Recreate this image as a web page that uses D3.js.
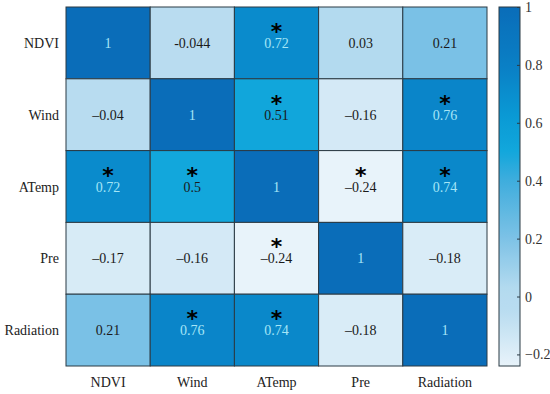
<!DOCTYPE html>
<html>
<head>
<meta charset="utf-8">
<script src="https://cdn.jsdelivr.net/npm/d3@7"></script>
<style>
  body { margin: 0; background: #fff; }
  svg text { font-family: "Liberation Serif", "Times New Roman", serif; }
  svg text.star { font-family: "DejaVu Sans", sans-serif; }
</style>
</head>
<body>
<svg id="chart" width="550" height="394"></svg>
<script>
const variables = ["NDVI", "Wind", "ATemp", "Pre", "Radiation"];

// correlation values, row by row
const values = [
  [1, -0.044, 0.72, 0.03, 0.21],
  [-0.04, 1, 0.51, -0.16, 0.76],
  [0.72, 0.5, 1, -0.24, 0.74],
  [-0.17, -0.16, -0.24, 1, -0.18],
  [0.21, 0.76, 0.74, -0.18, 1]
];

// text as printed in each cell
const valueLabels = [
  ["1", "-0.044", "0.72", "0.03", "0.21"],
  ["\u20130.04", "1", "0.51", "\u20130.16", "0.76"],
  ["0.72", "0.5", "1", "\u20130.24", "0.74"],
  ["\u20130.17", "\u20130.16", "\u20130.24", "1", "\u20130.18"],
  ["0.21", "0.76", "0.74", "\u20130.18", "1"]
];

// significance marks
const significant = [
  [false, false, true, false, false],
  [false, false, true, false, true],
  [true, true, false, true, true],
  [false, false, true, false, false],
  [false, true, true, false, false]
];

const colorbarTicks = [-0.2, 0, 0.2, 0.4, 0.6, 0.8, 1];
const colorDomain = [-0.24, 1];

const svg = d3.select("#chart");
const margin = { top: 7, left: 66 };
const gridW = 421, gridH = 359;

const x = d3.scaleBand().domain(variables).range([margin.left, margin.left + gridW]);
const y = d3.scaleBand().domain(variables).range([margin.top, margin.top + gridH]);

const color = d3.scaleLinear()
  .domain([-0.24, -0.05, 0.03, 0.2, 0.4, 0.5, 0.62, 0.8, 1])
  .range(["#e8f3fa", "#b9dcf0", "#b3daef", "#7dc2e6", "#3faddd", "#12a7dc", "#0a9ad5", "#0a7fc5", "#0a6db9"]);

const cells = [];
values.forEach((row, i) => row.forEach((v, j) => {
  cells.push({ r: variables[i], c: variables[j], v, label: valueLabels[i][j], star: significant[i][j] });
}));

const g = svg.append("g");

g.selectAll("rect.cell")
  .data(cells)
  .enter()
  .append("rect")
  .attr("class", "cell")
  .attr("x", d => x(d.c))
  .attr("y", d => y(d.r))
  .attr("width", x.bandwidth())
  .attr("height", y.bandwidth())
  .attr("fill", d => color(d.v))
  .attr("stroke", "#2b3a44")
  .attr("stroke-width", 1);

g.selectAll("text.val")
  .data(cells)
  .enter()
  .append("text")
  .attr("class", "val")
  .attr("x", d => x(d.c) + x.bandwidth() / 2)
  .attr("y", d => y(d.r) + y.bandwidth() / 2 + 5)
  .attr("text-anchor", "middle")
  .attr("font-size", 14)
  .attr("fill", d => d.v > 0.6 ? "#a6e6f7" : "#1a1a1a")
  .text(d => d.label);

g.selectAll("text.star")
  .data(cells.filter(d => d.star))
  .enter()
  .append("text")
  .attr("class", "star")
  .attr("x", d => x(d.c) + x.bandwidth() / 2)
  .attr("y", d => y(d.r) + y.bandwidth() / 2 - 4)
  .attr("text-anchor", "middle")
  .attr("font-size", 22)
  .attr("font-weight", "bold")
  .attr("fill", "#000")
  .text("*");

// row labels
svg.selectAll("text.rowlab")
  .data(variables)
  .enter()
  .append("text")
  .attr("class", "rowlab")
  .attr("x", margin.left - 7)
  .attr("y", d => y(d) + y.bandwidth() / 2 + 5)
  .attr("text-anchor", "end")
  .attr("font-size", 14)
  .attr("fill", "#222")
  .text(d => d);

// column labels
svg.selectAll("text.collab")
  .data(variables)
  .enter()
  .append("text")
  .attr("class", "collab")
  .attr("x", d => x(d) + x.bandwidth() / 2)
  .attr("y", margin.top + gridH + 21)
  .attr("text-anchor", "middle")
  .attr("font-size", 14)
  .attr("fill", "#222")
  .text(d => d);

// colorbar
const cbX = 499, cbW = 21;
const cbY = d3.scaleLinear().domain(colorDomain).range([margin.top + gridH, margin.top]);

const defs = svg.append("defs");
const grad = defs.append("linearGradient")
  .attr("id", "cbgrad")
  .attr("x1", 0).attr("y1", 1).attr("x2", 0).attr("y2", 0);
d3.range(0, 1.0001, 0.02).forEach(t => {
  const v = colorDomain[0] + t * (colorDomain[1] - colorDomain[0]);
  grad.append("stop").attr("offset", t).attr("stop-color", color(v));
});

svg.append("rect")
  .attr("x", cbX)
  .attr("y", margin.top)
  .attr("width", cbW)
  .attr("height", gridH)
  .attr("fill", "url(#cbgrad)")
  .attr("stroke", "#2b3a44")
  .attr("stroke-width", 1);

const cbAxis = svg.append("g")
  .attr("transform", `translate(${cbX + cbW},0)`)
  .call(d3.axisRight(cbY).tickValues(colorbarTicks).tickSize(-3).tickPadding(6)
    .tickFormat(d => d < 0 ? "\u2212" + Math.abs(d) : String(d)));
cbAxis.select(".domain").remove();
cbAxis.selectAll("line").attr("stroke", "#2b3a44");
cbAxis.selectAll("text")
  .attr("font-size", 14)
  .attr("fill", "#333")
  .attr("x", 5);
</script>
</body>
</html>
